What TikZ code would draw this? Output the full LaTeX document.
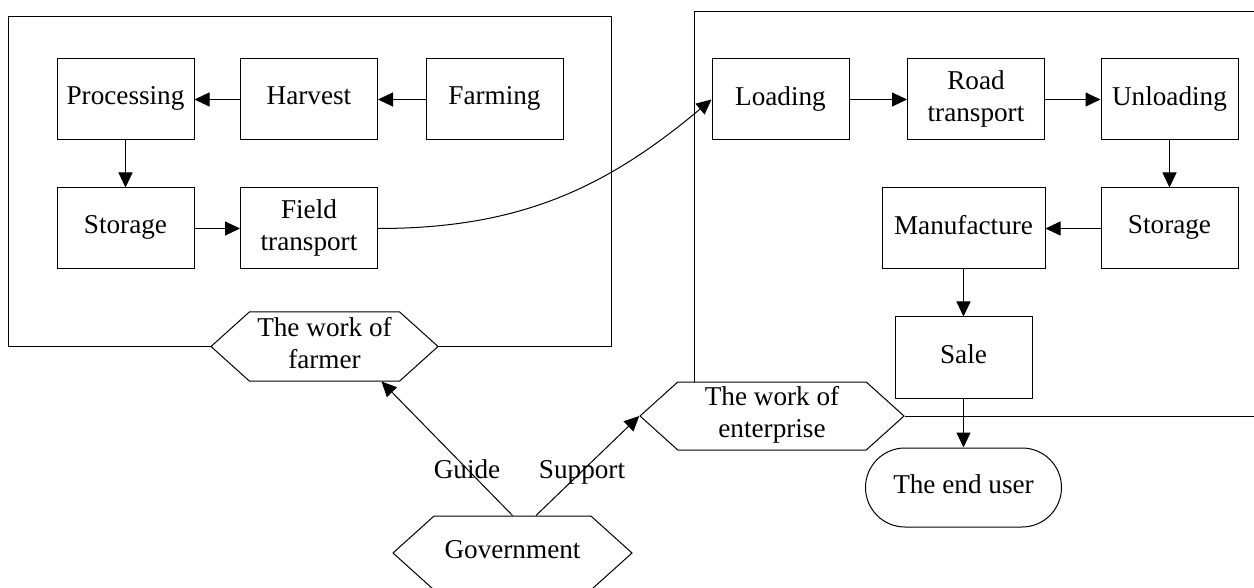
\documentclass[tikz,border=0pt]{standalone}
\usepackage{fontspec}
\setmainfont{Liberation Serif}
\usetikzlibrary{arrows.meta,shapes.symbols,shapes.misc}
% line strut so every label sits on the same baseline whatever its letters
\newcommand\lnstrut{\rule[-7.8pt]{0pt}{24.2pt}}
\begin{document}
\begin{tikzpicture}[x=1pt,y=-1pt,
  every node/.style={font=\fontsize{27.2}{32}\selectfont, align=center, inner sep=0pt,
                     execute at begin node=\lnstrut, execute at end node=\lnstrut},
  stepbox/.style={draw, line width=1pt, minimum width=137pt, minimum height=81pt},
  hexa/.style={draw, fill=white, line width=1pt, shape=signal, signal to=west and east,
               signal from=nowhere, signal pointer angle=84},
  terminal/.style={draw, line width=1pt, rounded rectangle, minimum width=196pt, minimum height=79pt},
  frame/.style={draw, line width=1pt},
  arr/.style={draw, line width=1pt, -{Triangle[length=15pt,width=14pt]}}
]
\useasboundingbox (0,0) rectangle (1254,588);

% farmer's side
\draw[frame] (8,17) rectangle (611,346);
\node[stepbox] (proc)  at (125.5,99.5) {Processing};
\node[stepbox] (harv)  at (309,99.5)   {Harvest};
\node[stepbox] (farm)  at (494.5,99.5) {Farming};
\node[stepbox] (stor1) at (125.5,228.5) {Storage};
\node[stepbox] (field) at (309,228.5)  {Field\\transport};
\node[hexa, minimum width=227pt, minimum height=69pt] (farmer) at (324.5,346.5) {The work of\\farmer};

% enterprise's side
\node[stepbox] (load)   at (780.5,99.5)  {Loading};
\node[stepbox] (road)   at (976,99.5)    {Road\\transport};
\node[stepbox] (unload) at (1169.5,99.5) {Unloading};
\node[stepbox] (stor2)  at (1169.5,228.5) {Storage};
\node[stepbox, minimum width=163pt] (manu) at (963.5,228.5) {Manufacture};
\node[stepbox] (sale)   at (963.5,357.5) {Sale};
\node[hexa, minimum width=264pt, minimum height=68pt] (enter) at (772,416) {The work of\\enterprise};
\node[terminal] (user) at (963.5,487.5) {The end user};

\coordinate (rtop) at (694,12);
\coordinate (rright) at (1254,12);
\coordinate (redge) at (1254,0);
\draw[frame] (rright) -- (rtop) -- (rtop |- enter.north);
\draw[frame] (enter.east) -- (redge |- enter.east);

% government
\node[hexa, minimum width=239pt, minimum height=74pt] (gov) at (512.5,553) {Government};

% process flow
\draw[arr] (harv) -- (proc);
\draw[arr] (farm) -- (harv);
\draw[arr] (proc) -- (stor1);
\draw[arr] (stor1) -- (field);
\draw[arr] (field.east) to[out=0,in=220] (load.west);
\draw[arr] (load) -- (road);
\draw[arr] (road) -- (unload);
\draw[arr] (unload) -- (stor2);
\draw[arr] (stor2) -- (manu);
\draw[arr] (manu) -- (sale);
\draw[arr] (sale.south) -- (sale.south |- user.north);

% government's role
\draw[arr] (gov.north) -- ([xshift=57pt]farmer.south);
\draw[arr] ([xshift=23.5pt]gov.north) -- (enter.west);
\node (guide)   at (467,473) {Guide};
\node (support) at (582,473) {Support};
\end{tikzpicture}
\end{document}
